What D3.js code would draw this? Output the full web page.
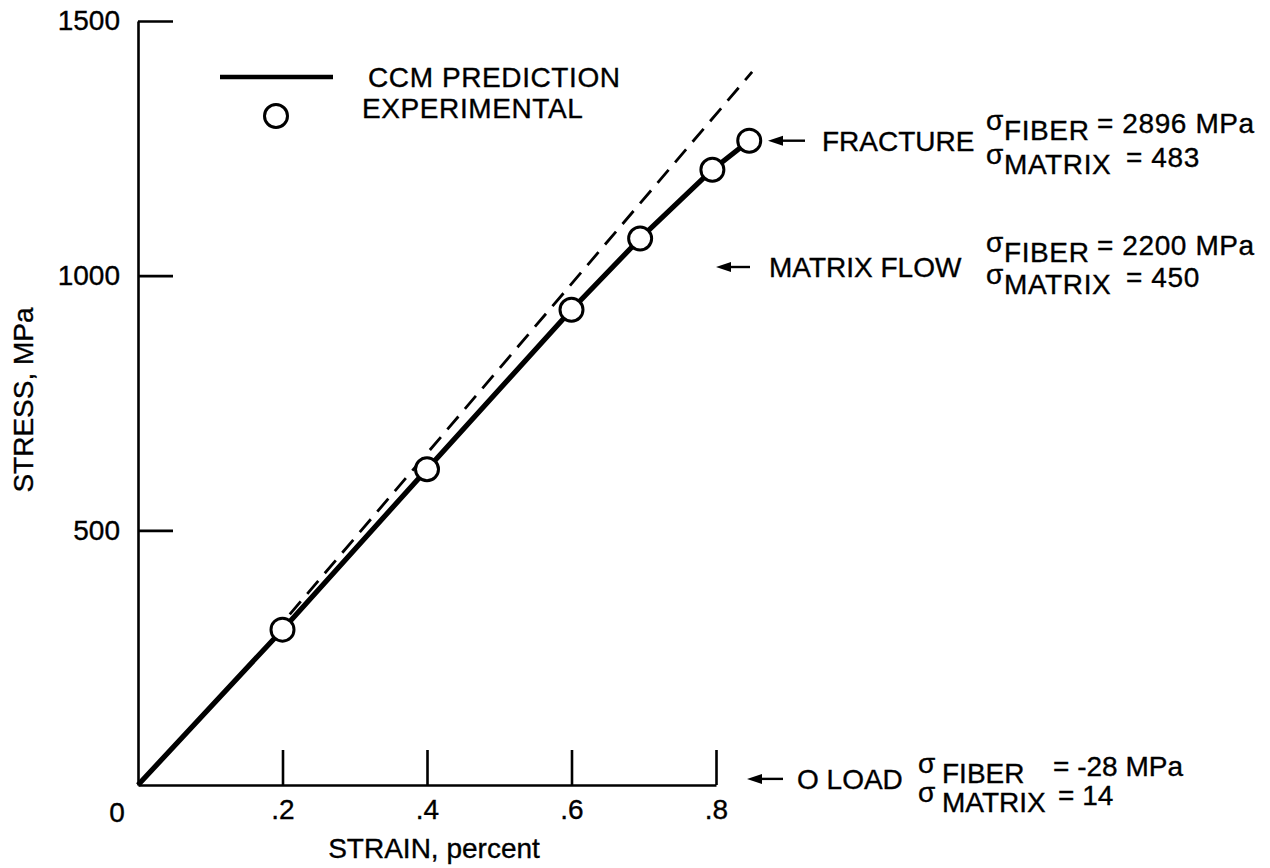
<!DOCTYPE html>
<html>
<head>
<meta charset="utf-8">
<script src="https://cdn.jsdelivr.net/npm/d3@7"></script>
<style>
  html, body { margin: 0; padding: 0; background: #fff; }
  svg { display: block; }
  text { font-family: "Liberation Sans", Arial, Helvetica, sans-serif; fill: #000; stroke: #000; stroke-width: 0.35px; }
</style>
</head>
<body>
<svg id="chart" width="1270" height="868"></svg>
<script>
// Axis ticks
const strainTicks = [0.2, 0.4, 0.6, 0.8];
const stressTicks = [500, 1000, 1500];

// Experimental stress-strain points (strain in percent, stress in MPa)
const expStrain = [0.2, 0.4, 0.6, 0.695, 0.795, 0.846];
const expStress = [305, 620, 933, 1073, 1208, 1265];

// CCM prediction curve
const ccmStrain = [0, 0.2, 0.4, 0.6, 0.695, 0.795, 0.846];
const ccmStress = [0, 305, 620, 933, 1073, 1208, 1265];

// Extension of the initial elastic slope (dashed)
const elasticStrain = [0.21, 0.85];
const elasticStress = [335, 1400];

// Annotated load states: label, stress level pointed at, constituent stresses
const stateNames = ["FRACTURE", "MATRIX FLOW", "O LOAD"];
const stateStress = [1265, 1017, 12];
const fiberValues = ["2896 MPa", "2200 MPa", "-28 MPa"];
const matrixValues = ["483", "450", "14"];

const svg = d3.select("#chart");
const FONT = 28;

const x = d3.scaleLinear().domain([0, 0.8]).range([138, 716]);
const y = d3.scaleLinear().domain([0, 1500]).range([785, 21]);

// Axes: ticks point into the plot
const xAxis = d3.axisBottom(x)
  .tickValues(strainTicks)
  .tickFormat(d => d3.format(".1f")(d).replace(/^0/, ""))
  .tickSizeInner(-35).tickSizeOuter(0).tickPadding(14);

const yAxis = d3.axisLeft(y)
  .tickValues(stressTicks)
  .tickFormat(d3.format("d"))
  .tickSizeInner(-35).tickSizeOuter(0).tickPadding(18);

function styleAxis(g) {
  g.select(".domain").attr("stroke", "#000").attr("stroke-width", 2.6);
  g.selectAll(".tick line").attr("stroke", "#000").attr("stroke-width", 2.6);
  g.selectAll(".tick text")
    .attr("font-size", FONT)
    .attr("font-family", "Liberation Sans, Arial, sans-serif")
    .attr("fill", "#000");
}

svg.append("g").attr("transform", `translate(0,${y(0)})`).call(xAxis).call(styleAxis);
svg.append("g").attr("transform", `translate(${x(0)},0)`).call(yAxis).call(styleAxis);

// Shared origin label
svg.append("text")
  .attr("x", x(0) - 21).attr("y", y(0) + 27)
  .attr("text-anchor", "middle").attr("dy", "0.35em")
  .attr("font-size", FONT).text("0");

// Axis titles
svg.append("text")
  .attr("x", 434).attr("y", 848).attr("dy", "0.35em")
  .attr("text-anchor", "middle").attr("font-size", FONT)
  .text("STRAIN, percent");

svg.append("text")
  .attr("transform", "translate(23,400) rotate(-90)")
  .attr("dy", "0.35em")
  .attr("text-anchor", "middle").attr("font-size", FONT)
  .text("STRESS, MPa");

// Dashed elastic extension
const elastic = d3.zip(elasticStrain, elasticStress);
svg.append("path")
  .datum(elastic)
  .attr("d", d3.line().x(d => x(d[0])).y(d => y(d[1])))
  .attr("fill", "none").attr("stroke", "#000")
  .attr("stroke-width", 2.8).attr("stroke-dasharray", "17 10");

// CCM prediction (solid)
const ccm = d3.zip(ccmStrain, ccmStress);
svg.append("path")
  .datum(ccm)
  .attr("d", d3.line().x(d => x(d[0])).y(d => y(d[1])))
  .attr("fill", "none").attr("stroke", "#000")
  .attr("stroke-width", 5.2).attr("stroke-linejoin", "round");

// Experimental points
const exp = d3.zip(expStrain, expStress);
svg.append("g").selectAll("circle")
  .data(exp).join("circle")
  .attr("cx", d => x(d[0])).attr("cy", d => y(d[1]))
  .attr("r", 11.5)
  .attr("fill", "#fff").attr("stroke", "#000").attr("stroke-width", 3);

// Legend
const legend = svg.append("g");
legend.append("line")
  .attr("x1", 220).attr("x2", 333).attr("y1", 77).attr("y2", 77)
  .attr("stroke", "#000").attr("stroke-width", 4.5);
legend.append("circle")
  .attr("cx", 276).attr("cy", 116).attr("r", 11.5)
  .attr("fill", "#fff").attr("stroke", "#000").attr("stroke-width", 3);
legend.append("text").attr("x", 368).attr("y", 87)
  .attr("font-size", FONT).attr("letter-spacing", 0.6).text("CCM PREDICTION");
legend.append("text").attr("x", 362).attr("y", 118)
  .attr("font-size", FONT).attr("letter-spacing", 0.6).text("EXPERIMENTAL");

// Arrow helper: tip at (x1, yy), tail at x2
function arrow(x1, x2, yy) {
  svg.append("line")
    .attr("x1", x1 + 10).attr("x2", x2).attr("y1", yy).attr("y2", yy)
    .attr("stroke", "#000").attr("stroke-width", 2.4);
  svg.append("path")
    .attr("d", `M${x1},${yy} L${x1 + 15},${yy - 5} L${x1 + 15},${yy + 5} Z`)
    .attr("fill", "#000");
}

// Layout of each annotation block
const blockLayout = [
  { arrow: [768, 805], labelX: 822, labelDy: 10, sigmaX: 986, wordX: 1004,
    fiberBase: 140, matrixBase: 174, fiberEqX: 1097, matrixEqX: 1126, ls: 0.6 },
  { arrow: [716, 750], labelX: 769, labelDy: 10, sigmaX: 986, wordX: 1004,
    fiberBase: 262, matrixBase: 294, fiberEqX: 1097, matrixEqX: 1126, ls: 0.6 },
  { arrow: [747, 783], labelX: 797, labelDy: 10, sigmaX: 918, wordX: 942,
    fiberBase: 783, matrixBase: 812, fiberEqX: 1053, matrixEqX: 1058, ls: 0 }
];

stateNames.forEach((name, i) => {
  const L = blockLayout[i];
  const yy = y(stateStress[i]);
  arrow(L.arrow[0], L.arrow[1], yy);
  svg.append("text").attr("x", L.labelX).attr("y", yy + L.labelDy)
    .attr("font-size", FONT).text(name);

  const rows = [
    { word: "FIBER", base: L.fiberBase, eqX: L.fiberEqX, val: fiberValues[i] },
    { word: "MATRIX", base: L.matrixBase, eqX: L.matrixEqX, val: matrixValues[i] }
  ];
  rows.forEach(r => {
    svg.append("text").attr("x", L.sigmaX).attr("y", r.base - 10)
      .attr("font-size", FONT).text("σ");
    svg.append("text").attr("x", L.wordX).attr("y", r.base)
      .attr("font-size", FONT).attr("letter-spacing", L.ls).text(r.word);
    svg.append("text").attr("x", r.eqX).attr("y", r.base - 7)
      .attr("font-size", FONT).attr("letter-spacing", L.ls).text("= " + r.val);
  });
});
</script>
</body>
</html>
